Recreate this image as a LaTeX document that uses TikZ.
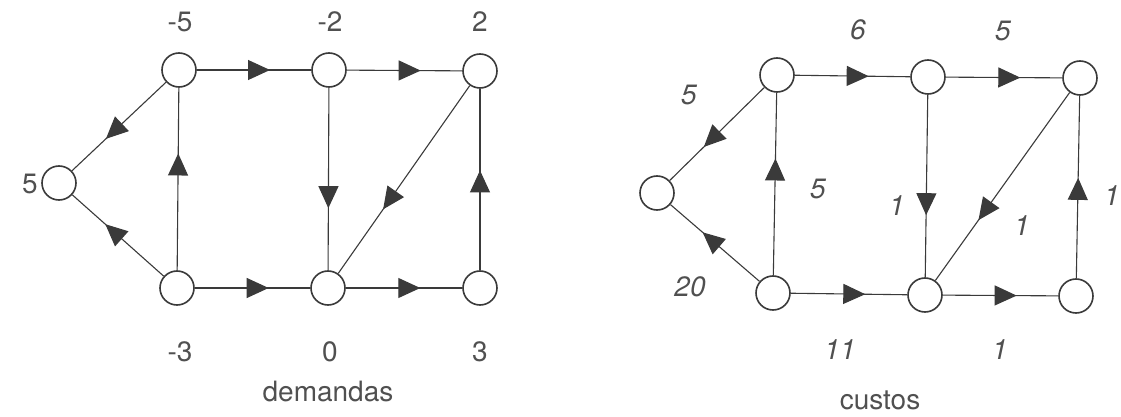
\documentclass[tikz,border=0pt]{standalone}
\usepackage{fontspec}
\setmainfont{TeX Gyre Heros}
\usetikzlibrary{arrows.meta,decorations.markings}
\definecolor{ln}{HTML}{3A3A3A}
\definecolor{tx}{HTML}{505050}
\tikzset{
  vtx/.style={circle,draw=ln,line width=0.8pt,fill=white,minimum size=17pt,inner sep=0pt},
  edge/.style={draw=ln,line width=0.55pt},
  mk/.style={postaction={decorate,decoration={markings,mark=at position #1 with {\arrow[ln]{Triangle[length=11pt,width=10pt]}}}}},
  lab/.style={text=tx,font=\fontsize{14}{16}\selectfont,inner sep=0pt},
  ilab/.style={text=tx,font=\fontsize{14}{16}\selectfont\itshape,inner sep=0pt}
}
\begin{document}
\begin{tikzpicture}[x=0.5pt,y=-0.5pt]
\useasboundingbox (0,0) rectangle (1121,417);
% left graph
\node[vtx] (a0) at (59,183) {};
\node[vtx] (a1) at (179,70) {};
\node[vtx] (a2) at (329,70) {};
\node[vtx] (a3) at (480,71) {};
\node[vtx] (a4) at (177,288) {};
\node[vtx] (a5) at (328,288) {};
\node[vtx] (a6) at (480,288) {};
\draw[edge,mk=0.64] (a1) -- (a0);
\draw[edge,mk=0.64] (a4) -- (a0);
\draw[edge,mk=0.64] (a4) -- (a1);
\draw[edge,mk=0.64] (a1) -- (a2);
\draw[edge,mk=0.64] (a2) -- (a3);
\draw[edge,mk=0.66] (a2) -- (a5);
\draw[edge,mk=0.66] (a3) -- (a5);
\draw[edge,mk=0.55] (a6) -- (a3);
\draw[edge,mk=0.64] (a4) -- (a5);
\draw[edge,mk=0.64] (a5) -- (a6);
\node[lab] (d1) at (180,22) {-5};
\node[lab] (d2) at (330,22) {-2};
\node[lab] (d3) at (480,22) {2};
\node[lab] (d0) at (30,184) {5};
\node[lab] (d4) at (180,352) {-3};
\node[lab] (d5) at (330,352) {0};
\node[lab] (d6) at (480,352) {3};
\node[lab] (dt) at (328,392) {demandas};
% right graph
\node[vtx] (b0) at (657,193) {};
\node[vtx] (b1) at (777,75) {};
\node[vtx] (b2) at (928,77) {};
\node[vtx] (b3) at (1080,78) {};
\node[vtx] (b4) at (773,293) {};
\node[vtx] (b5) at (925,295) {};
\node[vtx] (b6) at (1076,296) {};
\draw[edge,mk=0.64] (b1) -- (b0);
\draw[edge,mk=0.64] (b4) -- (b0);
\draw[edge,mk=0.64] (b4) -- (b1);
\draw[edge,mk=0.64] (b1) -- (b2);
\draw[edge,mk=0.64] (b2) -- (b3);
\draw[edge,mk=0.66] (b2) -- (b5);
\draw[edge,mk=0.68] (b3) -- (b5);
\draw[edge,mk=0.55] (b6) -- (b3);
\draw[edge,mk=0.64] (b4) -- (b5);
\draw[edge,mk=0.64] (b5) -- (b6);
\node[ilab] (c10) at (689,95) {5};
\node[ilab] (c12) at (858,30) {6};
\node[ilab] (c23) at (1003,31) {5};
\node[ilab] (c41) at (818,189) {5};
\node[ilab] (c25) at (897,206) {1};
\node[ilab] (c35) at (1022,226) {1};
\node[ilab] (c63) at (1112,196) {1};
\node[ilab] (c40) at (690,287) {20};
\node[ilab] (c45) at (840,350) {11};
\node[ilab] (c56) at (1000,350) {1};
\node[lab] (ct) at (880,400) {custos};
\end{tikzpicture}
\end{document}
